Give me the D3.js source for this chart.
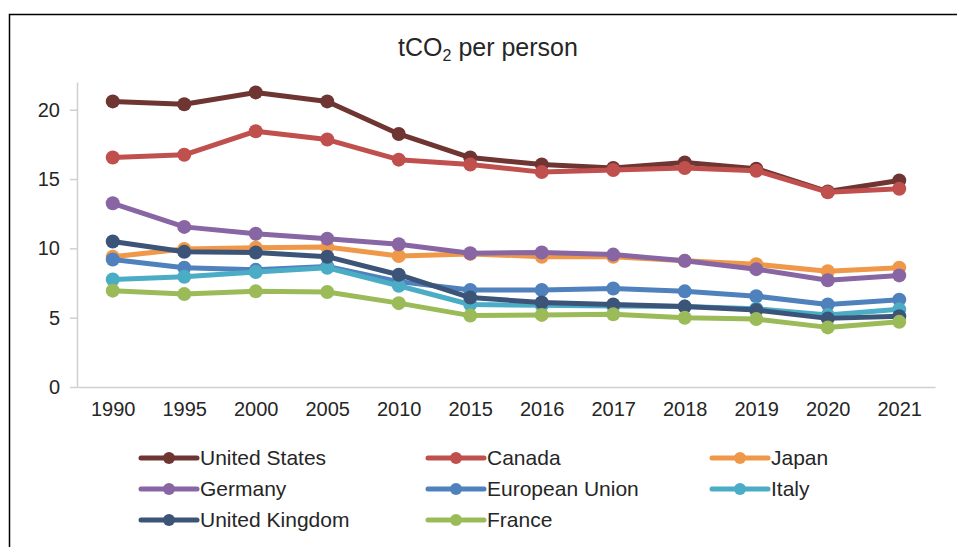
<!DOCTYPE html>
<html>
  <head>
    <meta charset="utf-8" />
    <script src="https://d3js.org/d3.v7.min.js"></script>
    <style>
      body {
        margin: 0;
        background: #fff;
      }
      text {
        font-family: "Liberation Sans", Arial, sans-serif;
        fill: #262626;
      }
    </style>
  </head>
  <body>
    <div id="my_chart"></div>
    <script>
      // years on the category axis
      const years = ["1990", "1995", "2000", "2005", "2010", "2015", "2016", "2017", "2018", "2019", "2020", "2021"];
      const yTicks = [0, 5, 10, 15, 20];

      // tCO2 per person
      const unitedStates = [20.6, 20.4, 21.25, 20.6, 18.25, 16.55, 16.05, 15.8, 16.2, 15.75, 14.1, 14.9];
      const canada = [16.55, 16.75, 18.45, 17.85, 16.4, 16.05, 15.5, 15.65, 15.8, 15.6, 14.05, 14.3];
      const japan = [9.4, 9.95, 10.05, 10.1, 9.45, 9.6, 9.4, 9.4, 9.1, 8.85, 8.35, 8.6];
      const germany = [13.25, 11.55, 11.05, 10.7, 10.3, 9.65, 9.7, 9.55, 9.1, 8.5, 7.7, 8.05];
      const europeanUnion = [9.2, 8.6, 8.45, 8.7, 7.6, 7.0, 7.0, 7.1, 6.9, 6.55, 5.95, 6.3];
      const italy = [7.75, 7.95, 8.3, 8.6, 7.3, 5.95, 5.9, 5.85, 5.8, 5.65, 5.2, 5.6];
      const unitedKingdom = [10.5, 9.75, 9.7, 9.4, 8.1, 6.45, 6.1, 5.95, 5.8, 5.55, 4.95, 5.1];
      const france = [6.95, 6.7, 6.9, 6.85, 6.05, 5.15, 5.2, 5.25, 5.0, 4.9, 4.3, 4.7];

      const seriesNames = ["United States", "Canada", "Japan", "Germany", "European Union", "Italy", "United Kingdom", "France"];
      const seriesValues = [unitedStates, canada, japan, germany, europeanUnion, italy, unitedKingdom, france];
      const colors = ["#6e3532", "#c0504d", "#f0984a", "#8866a4", "#4f81bd", "#4bacc6", "#3b5478", "#9bbb59"];

      const width = 957,
        height = 547;
      const margin = { top: 82, right: 22, bottom: 160, left: 77 };

      const svg = d3
        .select("#my_chart")
        .append("svg")
        .attr("width", width)
        .attr("height", height);

      // outer frame of the chart area
      svg
        .append("rect")
        .attr("x", 9.5)
        .attr("y", 14.5)
        .attr("width", 980)
        .attr("height", 600)
        .attr("fill", "none")
        .attr("stroke", "#000")
        .attr("stroke-width", 1.5);

      // title with subscript
      const title = svg
        .append("text")
        .attr("x", 488)
        .attr("y", 56)
        .attr("text-anchor", "middle")
        .style("font-size", "25px");
      title.append("tspan").text("tCO");
      title.append("tspan").attr("dy", 5).style("font-size", "16px").text("2");
      title.append("tspan").attr("dy", -5).text(" per person");

      const x = d3
        .scalePoint()
        .domain(years)
        .range([margin.left, width - margin.right])
        .padding(0.5);

      const y = d3
        .scaleLinear()
        .domain([0, 22])
        .range([height - margin.bottom, margin.top]);

      // Y axis
      const yAxis = svg
        .append("g")
        .attr("transform", "translate(" + margin.left + ",0)")
        .call(d3.axisLeft(y).tickValues(yTicks).tickSize(7).tickPadding(10).tickSizeOuter(0));
      yAxis.select(".domain").attr("stroke", "#d0d0d0").attr("stroke-width", 1.5);
      yAxis.selectAll(".tick line").attr("stroke", "#d0d0d0").attr("stroke-width", 1.5);
      yAxis.selectAll("text").style("font-size", "20px").attr("fill", "#262626");

      // X axis
      const xAxis = svg
        .append("g")
        .attr("transform", "translate(0," + y(0) + ")")
        .call(d3.axisBottom(x).tickSize(0).tickPadding(15));
      xAxis.select(".domain").attr("stroke", "#d0d0d0").attr("stroke-width", 1.5);
      xAxis.selectAll("text").style("font-size", "20px").attr("fill", "#262626");

      const line = d3
        .line()
        .x((d, i) => x(years[i]))
        .y((d) => y(d));

      // series drawn in legend order, later ones on top
      seriesValues.forEach((vals, k) => {
        const g = svg.append("g");
        g.append("path")
          .datum(vals)
          .attr("fill", "none")
          .attr("stroke", colors[k])
          .attr("stroke-width", 5)
          .attr("stroke-linejoin", "round")
          .attr("d", line);
        g.selectAll("circle")
          .data(vals)
          .enter()
          .append("circle")
          .attr("cx", (d, i) => x(years[i]))
          .attr("cy", (d) => y(d))
          .attr("r", 7)
          .attr("fill", colors[k]);
      });

      // legend: 3 columns
      const legendCols = [141, 428, 712];
      const legendRows = [458, 489, 520];
      seriesNames.forEach((name, k) => {
        const lx = legendCols[k % 3],
          ly = legendRows[Math.floor(k / 3)];
        const g = svg.append("g").attr("transform", "translate(" + lx + "," + ly + ")");
        g.append("line")
          .attr("x1", 0)
          .attr("x2", 56)
          .attr("stroke", colors[k])
          .attr("stroke-width", 5)
          .attr("stroke-linecap", "round");
        g.append("circle").attr("cx", 28).attr("r", 6).attr("fill", colors[k]);
        g.append("text")
          .attr("x", 59)
          .attr("dy", "0.35em")
          .style("font-size", "21px")
          .text(name);
      });
    </script>
  </body>
</html>
